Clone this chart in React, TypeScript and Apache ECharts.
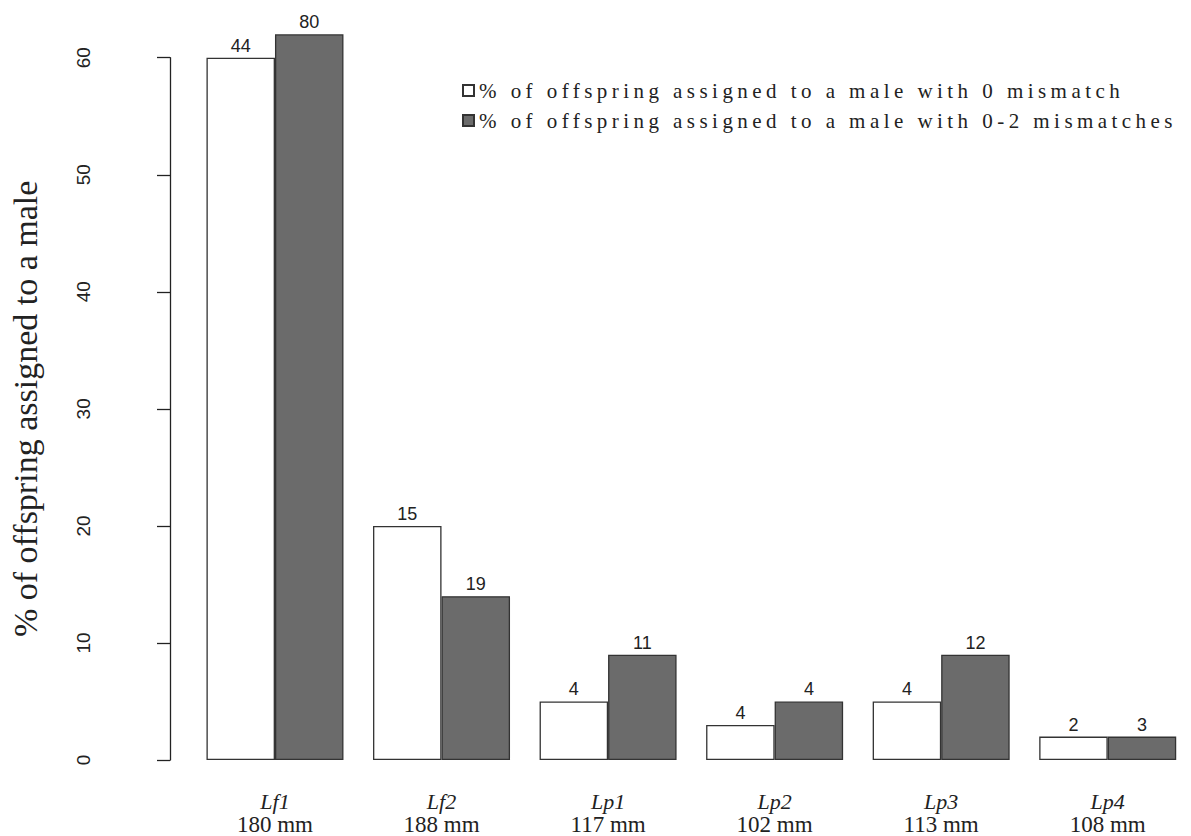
import React, { useEffect, useRef } from "react";
import * as echarts from "echarts";

const categories = ["Lf1", "Lf2", "Lp1", "Lp2", "Lp3", "Lp4"];
const lengths = ["180 mm", "188 mm", "117 mm", "102 mm", "113 mm", "108 mm"];
const pctZeroMismatch = [60, 20, 5, 3, 5, 2];
const pctUpToTwoMismatches = [62, 14, 9, 5, 9, 2];
const countZeroMismatch = [44, 15, 4, 4, 4, 2];
const countUpToTwoMismatches = [80, 19, 11, 4, 12, 3];
const seriesNames = [
  "% of offspring assigned to a male with 0 mismatch",
  "% of offspring assigned to a male with 0-2 mismatches",
];
const yTitle = "% of offspring assigned to a male";

export default function App() {
  const ref = useRef<HTMLDivElement>(null);
  useEffect(() => {
    if (!ref.current) return;
    const chart = echarts.init(ref.current, null, { renderer: "svg" });
    const serif = "'Liberation Serif', 'Times New Roman', 'DejaVu Serif', serif";
    const sans = "'Liberation Sans', Arial, Helvetica, sans-serif";
    const labelStyle = {
      show: true,
      position: "top",
      distance: 3,
      fontFamily: sans,
      fontSize: 18,
      color: "#222",
    };
    chart.setOption({
      animation: false,
      backgroundColor: "#fff",
      grid: { left: 187.7, top: 57.7, width: 1020, bottom: 73.5 },
      legend: {
        left: 462,
        top: 80,
        orient: "vertical",
        icon: "rect",
        itemWidth: 11,
        itemHeight: 11,
        itemGap: 9,
        padding: 0,
        selectedMode: false,
        textStyle: { fontFamily: serif, fontSize: 21, color: "#222", lineHeight: 21 },
        data: seriesNames,
      },
      xAxis: {
        type: "category",
        data: categories,
        axisLine: { show: false },
        axisTick: { show: false },
        axisLabel: {
          margin: 30,
          interval: 0,
          formatter: (v: string, i: number) => `{a|${v}}\n{b|${lengths[i]}}`,
          rich: {
            a: { fontFamily: serif, fontStyle: "italic", fontSize: 22, lineHeight: 23, color: "#222" },
            b: { fontFamily: serif, fontSize: 23, lineHeight: 23, color: "#222" },
          },
        },
      },
      yAxis: {
        type: "value",
        min: 0,
        max: 60,
        interval: 10,
        offset: 21.7,
        name: yTitle,
        nameLocation: "middle",
        nameGap: 128,
        nameTextStyle: { fontFamily: serif, fontSize: 34, color: "#222" },
        axisLine: { show: true, lineStyle: { color: "#222", width: 1.3 } },
        axisTick: { show: true, length: 13, lineStyle: { color: "#222", width: 1.3 } },
        axisLabel: { rotate: 90, margin: 77, fontFamily: sans, fontSize: 19, color: "#222" },
        splitLine: { show: false },
      },
      series: [
        {
          name: seriesNames[0],
          type: "bar",
          data: pctZeroMismatch,
          barWidth: 68.5,
          barGap: "0%",
          clip: false,
          itemStyle: { color: "#ffffff", borderColor: "#333", borderWidth: 1.3 },
          label: { ...labelStyle, formatter: (p: any) => String(countZeroMismatch[p.dataIndex]) },
        },
        {
          name: seriesNames[1],
          type: "bar",
          data: pctUpToTwoMismatches,
          barWidth: 68.5,
          barGap: "0%",
          clip: false,
          itemStyle: { color: "#6b6b6b", borderColor: "#333", borderWidth: 1.3 },
          label: { ...labelStyle, formatter: (p: any) => String(countUpToTwoMismatches[p.dataIndex]) },
        },
      ],
    });
    const applySpacing = () => {
      ref.current?.querySelectorAll("text").forEach((t) => {
        if (seriesNames.includes((t.textContent || "").trim())) {
          t.setAttribute("letter-spacing", "4.45");
        }
      });
    };
    applySpacing();
    chart.on("finished", applySpacing);
    return () => chart.dispose();
  }, []);
  return (
    <div
      ref={ref}
      style={{ position: "fixed", left: 0, top: 0, width: 1191, height: 836, background: "#fff" }}
    />
  );
}
